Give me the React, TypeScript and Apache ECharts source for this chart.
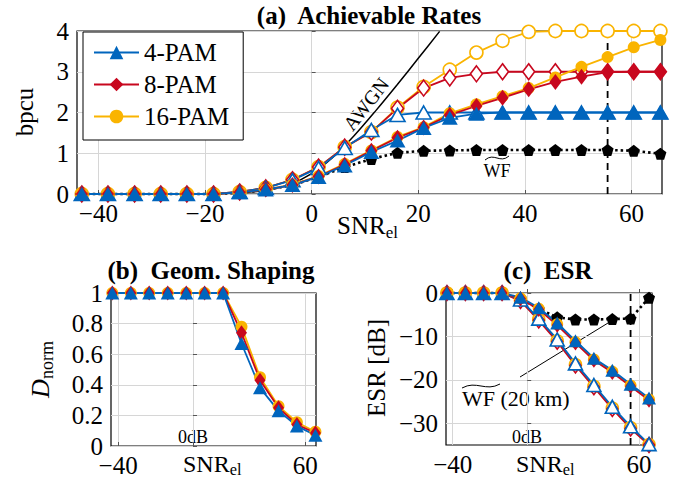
import React, { useEffect, useRef } from 'react';
import * as echarts from 'echarts';

const FONT = '"Liberation Serif", "Times New Roman", serif';
const BLUE = '#0065BD';
const RED = '#C8071E';
const YELLOW = '#FAB400';

// ---------- (a) Achievable rates ----------
const snrA = [-43.1, -38.2, -33.2, -28.3, -23.4, -18.4, -13.5, -8.6, -3.6, 1.3, 6.2, 11.2, 16.1, 21.0, 25.9, 30.9, 35.8, 40.7, 45.7, 50.6, 55.5, 60.4, 65.4];
const rate4Filled = [0, 0, 0, 0, 0, 0, 0.04, 0.11, 0.22, 0.42, 0.7, 1.03, 1.31, 1.62, 1.87, 1.97, 2, 2, 2, 2, 2, 2, 2];
const rate8Filled = [0, 0, 0, 0, 0, 0, 0.04, 0.11, 0.22, 0.43, 0.72, 1.06, 1.38, 1.63, 1.94, 2.16, 2.36, 2.57, 2.75, 2.88, 2.99, 3, 3];
const rate16Filled = [0, 0, 0, 0, 0, 0, 0.04, 0.11, 0.23, 0.44, 0.74, 1.07, 1.4, 1.64, 1.98, 2.2, 2.4, 2.6, 2.86, 3.12, 3.36, 3.6, 3.78];
const rate4Open = [0, 0, 0, 0, 0, 0, 0.05, 0.15, 0.34, 0.64, 1.13, 1.57, 1.94, 2, 2, 2, 2, 2, 2, 2, 2, 2, 2];
const rate8Open = [0, 0, 0, 0, 0, 0, 0.05, 0.15, 0.35, 0.66, 1.15, 1.52, 2.1, 2.6, 2.85, 2.95, 3, 3, 3, 3, 3, 3, 3];
const rate16Open = [0, 0, 0, 0, 0, 0, 0.05, 0.15, 0.35, 0.66, 1.15, 1.52, 2.12, 2.63, 3.05, 3.47, 3.76, 3.98, 4, 4, 4, 4, 4];
const rateWF = [0, 0, 0, 0, 0, 0, 0.03, 0.1, 0.22, 0.42, 0.66, 0.86, 1.01, 1.06, 1.07, 1.08, 1.08, 1.08, 1.08, 1.08, 1.08, 1.06, 0.99];
const awgnSnr = [-44, -20, -12, -8, -4, 0, 4, 8, 12, 16, 20, 24];
const awgnRate = [0, 0.007, 0.044, 0.106, 0.242, 0.5, 0.906, 1.435, 2.04, 2.675, 3.33, 3.99];
const markerSnr = [55.5, 55.5];
const markerRate = [0, 4];

// ---------- (b) Geometric shaping ----------
const snrBC = [-43.1, -33.2, -23.4, -13.5, -3.6, 6.2, 16.1, 25.9, 35.8, 45.7, 55.5, 65.4];
const dNorm4 = [1, 1, 1, 1, 1, 1, 1, 0.67, 0.38, 0.23, 0.13, 0.07];
const dNorm8 = [1, 1, 1, 1, 1, 1, 1, 0.74, 0.43, 0.25, 0.14, 0.085];
const dNorm16 = [1, 1, 1, 1, 1, 1, 1, 0.78, 0.45, 0.26, 0.155, 0.093];

// ---------- (c) ESR ----------
const esr4Filled = [0, 0, 0, 0, -1.0, -3.4, -6.9, -11.0, -15.0, -17.8, -21.0, -24.2];
const esr8Filled = [0, 0, 0, 0, -1.3, -3.8, -7.4, -11.5, -15.5, -18.3, -21.5, -24.7];
const esr16Filled = [0, 0, 0, 0, -1.2, -3.6, -7.2, -11.3, -15.3, -18.1, -21.3, -24.5];
const esr4Open = [0, 0, 0, 0, -1.5, -5.9, -10.7, -16.2, -21.2, -26.2, -30.7, -34.8];
const esr8Open = [0, 0, 0, 0, -1.8, -6.3, -11.2, -16.7, -21.7, -26.7, -31.2, -35];
const esr16Open = [0, 0, 0, 0, -1.7, -6.1, -11.0, -16.5, -21.5, -26.5, -31.0, -34.9];
const esrWF = [0, 0, 0, 0, -1.2, -3.7, -5.6, -6.1, -6.1, -6.0, -5.9, -1.1];
const markerEsr = [-35, 0];

// tick values
const xTicksA = [-40, -20, 0, 20, 40, 60];
const xTicksBC = [-40, 0, 60];
const xLabelsBC = [-40, 60];
const yTicksC = [-30, -20, -10, 0];

const PENT = 'path://M0,-10L9.51,-3.09L5.88,8.09L-5.88,8.09L-9.51,-3.09Z';

const zip = (xs: number[], ys: number[]) => xs.map((v, i) => [v, ys[i]]);
const fmt = (v: number) => (v < 0 ? '\u2212' + Math.abs(v) : String(Math.round(v * 100) / 100));

function ser(name: string, xs: number[], ys: number[], idx: number, color: string, symbol: string, size: any, open: boolean, extra: any = {}) {
  return {
    type: 'line',
    name,
    xAxisIndex: idx,
    yAxisIndex: idx,
    data: zip(xs, ys),
    symbol,
    symbolSize: size,
    showSymbol: true,
    clip: false,
    silent: true,
    emphasis: { disabled: true },
    lineStyle: { color, width: 1.8 },
    itemStyle: open
      ? { color: '#fff', borderColor: color, borderWidth: 1.6 }
      : { color, borderColor: color, borderWidth: 0 },
    ...extra,
  };
}

function dashed(xs: number[], ys: number[], idx: number) {
  return {
    type: 'line', name: 'marker' + idx, xAxisIndex: idx, yAxisIndex: idx,
    data: zip(xs, ys), symbol: 'none', silent: true, clip: false,
    lineStyle: { color: '#000', width: 1.8, type: [7, 5] },
  };
}

function wf(xs: number[], ys: number[], idx: number) {
  return ser('WF' + idx, xs, ys, idx, '#000', PENT, 12, false, {
    lineStyle: { color: '#000', width: 2.6, type: [2.5, 3] },
  });
}

const tickCommon = { show: true, inside: true, length: 4, lineStyle: { color: '#555' } };
const labelCommon = { fontFamily: FONT, fontSize: 25, color: '#000', margin: 7, formatter: fmt };
const split = { show: true, lineStyle: { color: '#d6d6d6', width: 1 } };

function xAx(idx: number, min: number, max: number, ticks: number[], labels: number[]) {
  return {
    type: 'value', gridIndex: idx, min, max,
    axisLine: { show: false },
    axisTick: { ...tickCommon, customValues: ticks },
    axisLabel: { ...labelCommon, customValues: labels },
    splitLine: split,
  };
}
function yAx(idx: number, min: number, max: number, interval: number | null, ticks: number[] | null) {
  const a: any = {
    type: 'value', gridIndex: idx, min, max,
    axisLine: { show: false },
    axisTick: { ...tickCommon },
    axisLabel: { ...labelCommon, margin: 8 },
    splitLine: split,
  };
  if (interval) a.interval = interval;
  if (ticks) {
    a.axisTick.customValues = ticks;
    a.axisLabel.customValues = ticks;
  }
  return a;
}

const txt = (text: string, x: number, y: number, size: number, extra: any = {}, el: any = {}) => ({
  type: 'text', x, y, silent: true, ...el,
  style: { text, fontFamily: FONT, fontSize: size, fill: '#000', align: 'center', verticalAlign: 'middle', ...extra },
});

const tilde = (x1: number, x2: number, y: number) => ({
  type: 'bezierCurve', silent: true,
  shape: { x1, y1: y + 2, x2, y2: y - 2, cpx1: x1 + (x2 - x1) * 0.38, cpy1: y - 6, cpx2: x1 + (x2 - x1) * 0.62, cpy2: y + 6 },
  style: { stroke: '#000', lineWidth: 1, fill: null },
});

const snrLabel = (x: number, y: number, size: number, sub: number) => [
  txt('SNR', x, y, size, { align: 'left' }),
  txt('el', x + size * 1.95, y + sub, size * 0.68, { align: 'left' }),
];

const gridBase = { show: true, borderColor: '#000', borderWidth: 1.2, backgroundColor: 'transparent', containLabel: false };

const option: any = {
  animation: false,
  backgroundColor: '#fff',
  grid: [
    { ...gridBase, left: 77, top: 31, width: 585, height: 163 },
    { ...gridBase, left: 111, top: 293, width: 205, height: 153 },
    { ...gridBase, left: 446, top: 293, width: 206, height: 152 },
  ],
  xAxis: [
    xAx(0, -44, 65.7, xTicksA, xTicksA),
    xAx(1, -43.8, 65.7, xTicksBC, xLabelsBC),
    xAx(2, -43.6, 67, xTicksBC, xLabelsBC),
  ],
  yAxis: [
    yAx(0, 0, 4, 1, null),
    yAx(1, 0, 1, 0.2, null),
    yAx(2, -35, 0, null, yTicksC),
  ],
  legend: {
    data: ['4-PAM', '8-PAM', '16-PAM'],
    orient: 'vertical', left: 83, top: 32,
    backgroundColor: '#fff', borderColor: '#000', borderWidth: 1, borderRadius: 0,
    padding: [8, 14, 11, 10], itemGap: 7, itemWidth: 45, itemHeight: 17,
    textStyle: { fontFamily: FONT, fontSize: 25, color: '#000' },
    selectedMode: false,
  },
  series: [
    // (a)
    dashed(markerSnr, markerRate, 0),
    {
      type: 'line', name: 'AWGN', xAxisIndex: 0, yAxisIndex: 0, data: zip(awgnSnr, awgnRate),
      smooth: 0.3, symbol: 'none', silent: true, lineStyle: { color: '#000', width: 1.5 },
    },
    wf(snrA, rateWF, 0),
    ser('16-PAM open', snrA, rate16Open, 0, YELLOW, 'circle', 13, true),
    ser('8-PAM open', snrA, rate8Open, 0, RED, 'diamond', [12, 16], true),
    ser('4-PAM open', snrA, rate4Open, 0, BLUE, 'triangle', [15, 13], true),
    ser('16-PAM', snrA, rate16Filled, 0, YELLOW, 'circle', 12, false),
    ser('8-PAM', snrA, rate8Filled, 0, RED, 'diamond', [12, 16], false),
    ser('4-PAM', snrA, rate4Filled, 0, BLUE, 'triangle', [16, 14], false),
    // (b)
    ser('16-PAM b', snrBC, dNorm16, 1, YELLOW, 'circle', 12, false),
    ser('8-PAM b', snrBC, dNorm8, 1, RED, 'diamond', [11, 15], false),
    ser('4-PAM b', snrBC, dNorm4, 1, BLUE, 'triangle', [14, 13], false),
    // (c)
    dashed(markerSnr, markerEsr, 2),
    wf(snrBC, esrWF, 2),
    ser('16-PAM c open', snrBC, esr16Open, 2, YELLOW, 'circle', 12, true),
    ser('8-PAM c open', snrBC, esr8Open, 2, RED, 'diamond', [11, 15], true),
    ser('4-PAM c open', snrBC, esr4Open, 2, BLUE, 'triangle', [14, 13], true),
    ser('16-PAM c', snrBC, esr16Filled, 2, YELLOW, 'circle', 12, false),
    ser('8-PAM c', snrBC, esr8Filled, 2, RED, 'diamond', [11, 15], false),
    ser('4-PAM c', snrBC, esr4Filled, 2, BLUE, 'triangle', [14, 13], false),
  ],
  graphic: [
    txt('(a)  Achievable Rates', 369, 15, 25, { fontWeight: 'bold' }),
    txt('(b)  Geom. Shaping', 211, 270, 25, { fontWeight: 'bold' }),
    txt('(c)  ESR', 548, 270, 25, { fontWeight: 'bold' }),
    ...snrLabel(337, 225, 25, 7),
    ...snrLabel(183, 464, 24, 5),
    ...snrLabel(516, 464, 24, 5),
    txt('bpcu', 24, 112, 25, {}, { rotation: Math.PI / 2 }),
    txt('ESR [dB]', 376, 368, 25, {}, { rotation: Math.PI / 2 }),
    {
      type: 'group', x: 40, y: 368, rotation: Math.PI / 2, silent: true,
      children: [
        txt('D', -30, 0, 26, { align: 'left', fontStyle: 'italic' }),
        txt('norm', -11, 7, 18, { align: 'left' }),
      ],
    },
    txt('0dB', 193, 437, 18),
    txt('0dB', 527, 437, 18),
    txt('AWGN', 366, 104, 20, {}, { rotation: (52 * Math.PI) / 180 }),
    txt('WF', 497, 171, 18),
    tilde(485, 509, 158),
    txt('WF (20\u2009km)', 462, 398, 22, { align: 'left' }),
    tilde(462, 500, 386),
    { type: 'line', silent: true, shape: { x1: 520, y1: 377, x2: 608, y2: 323 }, style: { stroke: '#000', lineWidth: 1 } },
  ],
};

export default function App() {
  const ref = useRef<HTMLDivElement>(null);
  useEffect(() => {
    const chart = echarts.init(ref.current!, null, { renderer: 'svg' });
    chart.setOption(option);
    return () => chart.dispose();
  }, []);
  return (
    <div
      ref={ref}
      style={{ position: 'fixed', left: 0, top: 0, width: 677, height: 479, background: '#fff' }}
    />
  );
}
